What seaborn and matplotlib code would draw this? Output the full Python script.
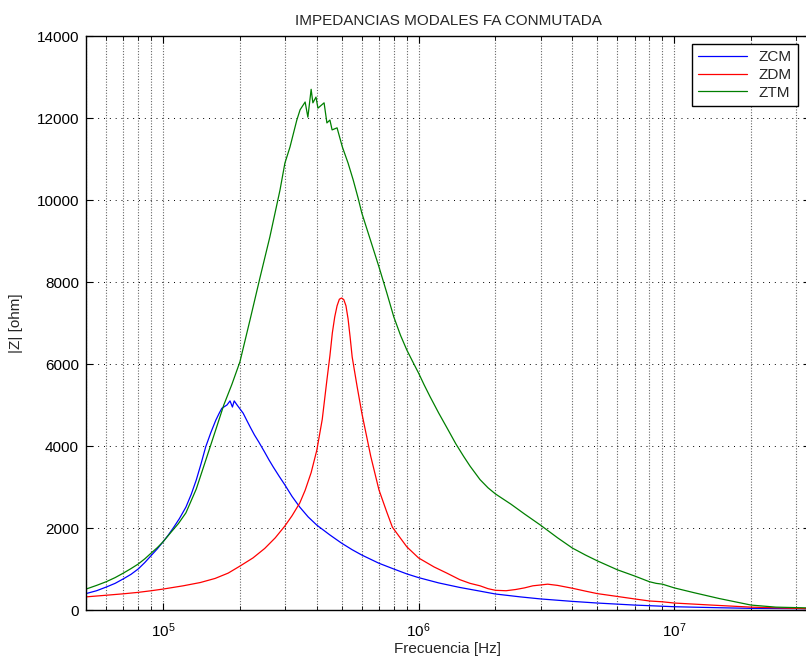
import numpy as np
import pandas as pd
import matplotlib
matplotlib.use("Agg")
import matplotlib.pyplot as plt
import seaborn as sns
from matplotlib.ticker import LogLocator, NullFormatter, LogFormatterMathtext

# ---- data (frequency in Hz, |Z| in ohm) ----
f_zcm = [5e4, 5.5e4, 6e4, 6.5e4, 7e4, 7.5e4, 8e4, 8.5e4, 9e4, 9.5e4, 1e5,
         1.05e5, 1.1e5, 1.16e5, 1.23e5, 1.29e5, 1.35e5, 1.41e5, 1.47e5,
         1.54e5, 1.61e5, 1.66e5, 1.7e5, 1.78e5, 1.83e5, 1.87e5, 1.9e5, 1.95e5,
         2.06e5, 2.13e5, 2.2e5, 2.28e5, 2.37e5, 2.5e5, 2.6e5, 2.7e5, 2.85e5,
         3.0e5, 3.2e5, 3.43e5, 3.7e5, 4e5, 4.5e5, 5e5, 5.5e5, 6e5, 7e5, 8e5,
         9e5, 1e6, 1.2e6, 1.45e6, 1.74e6, 2e6, 2.5e6, 3e6, 4e6, 5e6, 7e6,
         1e7, 1.5e7, 2e7, 3.4e7]
z_zcm = [400, 470, 560, 650, 760, 870, 1000, 1160, 1330, 1490, 1660,
         1830, 2010, 2230, 2510, 2820, 3170, 3570, 3980,
         4330, 4630, 4800, 4920, 5000, 5100, 4950, 5100, 5000,
         4800, 4620, 4450, 4270, 4100, 3850, 3660, 3490, 3260,
         3050, 2770, 2510, 2270, 2070, 1830, 1630, 1470, 1340, 1140, 1000,
         880, 790, 660, 550, 460, 390, 320, 270, 210, 170, 120,
         80, 55, 40, 30]

f_zdm = [5e4, 6e4, 7e4, 8e4, 9e4, 1e5, 1.2e5, 1.4e5, 1.6e5, 1.8e5, 2e5,
         2.25e5, 2.5e5, 2.75e5, 3e5, 3.2e5, 3.43e5, 3.6e5, 3.8e5, 4e5,
         4.2e5, 4.38e5, 4.5e5, 4.6e5, 4.7e5, 4.8e5, 4.9e5, 5e5, 5.1e5, 5.2e5,
         5.3e5, 5.4e5, 5.5e5, 5.75e5, 6e5, 6.5e5, 7e5, 7.5e5, 7.9e5, 8.5e5,
         9e5, 1e6, 1.15e6, 1.29e6, 1.45e6, 1.59e6, 1.74e6, 1.87e6, 2e6,
         2.2e6, 2.4e6, 2.6e6, 2.8e6, 3e6, 3.2e6, 3.5e6, 4e6, 4.5e6, 5e6,
         6e6, 7e6, 8e6, 9e6, 1e7, 1.4e7, 2e7, 3.4e7]
z_zdm = [320, 360, 395, 430, 470, 510, 590, 670, 770, 900, 1070,
         1270, 1500, 1760, 2050, 2300, 2610, 2920, 3350, 3900,
         4650, 5610, 6200, 6760, 7150, 7420, 7580, 7610, 7570, 7420,
         7100, 6650, 6170, 5450, 4800, 3750, 2930, 2400, 2020, 1750,
         1540, 1270, 1050, 900, 740, 650, 590, 520, 480,
         470, 500, 540, 590, 610, 630, 600, 530, 460, 400,
         330, 270, 220, 200, 170, 120, 70, 30]

f_ztm = [5e4, 5.5e4, 6e4, 6.5e4, 7e4, 7.5e4, 8e4, 8.5e4, 9e4, 9.5e4, 1e5,
         1.07e5, 1.15e5, 1.23e5, 1.35e5, 1.47e5, 1.61e5, 1.73e5, 1.86e5,
         2e5, 2.19e5, 2.4e5, 2.62e5, 2.87e5, 3e5,
         3.14e5, 3.34e5, 3.44e5, 3.6e5, 3.69e5, 3.8e5, 3.86e5, 3.97e5, 4.04e5,
         4.27e5, 4.38e5, 4.5e5, 4.59e5, 4.8e5, 5.03e5, 5.3e5, 5.55e5, 5.8e5,
         6e5, 6.5e5, 7e5, 7.5e5, 8e5, 8.5e5, 9e5, 9.5e5, 1e6, 1.05e6, 1.11e6,
         1.2e6, 1.29e6, 1.4e6, 1.5e6, 1.59e6, 1.74e6, 1.87e6, 2e6, 2.3e6,
         2.6e6, 3e6, 3.5e6, 4e6, 4.5e6, 5e6, 6e6, 7e6, 8e6, 8.5e6, 9e6, 1e7,
         1.2e7, 1.5e7, 2e7, 2.5e7, 3.4e7]
z_ztm = [510, 600, 690, 790, 900, 1010, 1120, 1250, 1390, 1520, 1660,
         1880, 2110, 2370, 2950, 3650, 4400, 5000, 5500,
         6050, 7070, 8120, 9100, 10240, 10900,
         11290, 11950, 12200, 12390, 12020, 12700, 12370, 12510, 12240,
         12370, 11880, 11950, 11710, 11760, 11300, 10900, 10490, 10050,
         9680, 9000, 8370, 7750, 7150, 6700, 6340, 6050, 5780, 5500, 5200,
         4800, 4450, 4050, 3750, 3510, 3180, 2980, 2830, 2580,
         2340, 2070, 1760, 1510, 1340, 1200, 980, 830, 690, 650, 630, 540,
         420, 280, 120, 70, 50]

sns.set_style("ticks")
plt.rcParams['font.family'] = ['Liberation Sans', 'DejaVu Sans']

fig = plt.figure(figsize=(8.06, 6.64), dpi=100)
ax = fig.add_axes([86/806, 54/664, (810-86)/806, 574/664])

series = [(f_zcm, z_zcm, 'ZCM', '#0000ff'),
          (f_zdm, z_zdm, 'ZDM', '#ff0000'),
          (f_ztm, z_ztm, 'ZTM', '#007f00')]
for f, z, name, col in series:
    sns.lineplot(x=f, y=z, color=col, lw=0.9, label=name, ax=ax,
                 estimator=None, sort=False)

ax.set_xscale('log')
ax.set_xlim(5e4, 3.4e7)
ax.set_ylim(0, 14000)
ax.set_yticks(np.arange(0, 14001, 2000))
ax.xaxis.set_major_locator(LogLocator(base=10))
ax.xaxis.set_major_formatter(LogFormatterMathtext())
ax.xaxis.set_minor_locator(LogLocator(base=10, subs=np.arange(2, 10)))
ax.xaxis.set_minor_formatter(NullFormatter())

ax.grid(which='both', axis='x', ls=(0, (1, 1.5)), color='0.4', lw=0.8)
ax.grid(which='major', axis='y', ls=(0, (1, 5)), color='k', lw=0.7)

ax.tick_params(which='both', direction='in', top=True, right=True,
               labelsize=11, colors='k')
ax.tick_params(which='major', length=5, width=0.8, pad=8)
ax.tick_params(which='minor', length=3, width=0.6)
ax.tick_params(axis='y', which='major', pad=5)
for s in ax.spines.values():
    s.set_color('k')
    s.set_linewidth(1.0)

ax.set_title('IMPEDANCIAS MODALES FA CONMUTADA', fontsize=11, pad=8)
ax.set_xlabel('Frecuencia [Hz]', fontsize=11, labelpad=2)
ax.set_ylabel('|Z| [ohm]', fontsize=11, labelpad=10)

leg = ax.legend(loc='upper right', bbox_to_anchor=(798/806, (664-44)/664),
                bbox_transform=fig.transFigure, borderaxespad=0,
                fontsize=11, handlelength=3.2, labelspacing=0.25,
                fancybox=False, framealpha=1, edgecolor='k')
leg.get_frame().set_linewidth(1.0)

fig.savefig('out.png', dpi=100)
